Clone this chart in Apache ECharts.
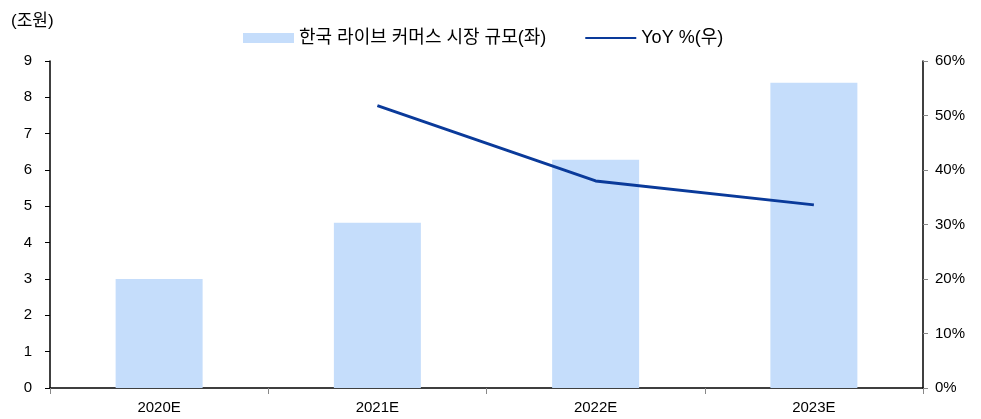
<!DOCTYPE html>
<html>
<head>
<meta charset="utf-8">
<script src="https://cdn.jsdelivr.net/npm/echarts@6/dist/echarts.min.js"></script>
<style>
  html, body { margin: 0; padding: 0; background: #fff; }
  #chart { width: 981px; height: 419px; }
</style>
</head>
<body>
<div id="chart"></div>
<script>
// 연도별 시장 규모(조원)와 성장률
var categories = ['2020E', '2021E', '2022E', '2023E'];
var marketSize = [3.0, 4.55, 6.28, 8.4];
var yoyPct = [null, 51.8, 38.0, 33.6];

var FONT = '"Liberation Sans", Arial, "Noto Sans CJK KR", sans-serif';

var myChart = echarts.init(document.getElementById('chart'));
var option = {
    animation: false,
    textStyle: { fontFamily: FONT },
    grid: { left: 50, right: 58, top: 61, bottom: 31, containLabel: false },
    graphic: [{
        type: 'text', left: 11, top: 13,
        style: { text: '(조원)', font: '17px ' + FONT, fill: '#000' }
    }],
    legend: {
        top: 24, left: 238, itemGap: 38, itemWidth: 51, itemHeight: 10,
        textStyle: { fontSize: 18, color: '#000', fontFamily: FONT },
        data: [
            { name: '한국 라이브 커머스 시장 규모(좌)', icon: 'rect' },
            { name: 'YoY %(우)', itemStyle: { opacity: 0 } }
        ]
    },
    xAxis: {
        type: 'category',
        data: categories,
        axisLine: { lineStyle: { color: '#000', width: 1.5 } },
        axisTick: { show: true, length: 6, lineStyle: { color: '#888' } },
        axisLabel: { fontSize: 15, color: '#000', margin: 12 }
    },
    yAxis: [{
        type: 'value', min: 0, max: 9, interval: 1,
        splitLine: { show: false },
        axisLine: { show: true, lineStyle: { color: '#000', width: 1.5 } },
        axisTick: { show: true, length: 5, lineStyle: { color: '#000' } },
        axisLabel: { fontSize: 15, color: '#000', margin: 18 }
    }, {
        type: 'value', min: 0, max: 60, interval: 10,
        splitLine: { show: false },
        axisLine: { show: true, lineStyle: { color: '#000', width: 1.5 } },
        axisTick: { show: true, length: 5, lineStyle: { color: '#888' } },
        axisLabel: { fontSize: 15, color: '#000', margin: 12, formatter: '{value}%' }
    }],
    series: [{
        name: '한국 라이브 커머스 시장 규모(좌)',
        type: 'bar',
        barWidth: 87,
        data: marketSize,
        itemStyle: { color: '#C5DDFB' }
    }, {
        name: 'YoY %(우)',
        type: 'line',
        yAxisIndex: 1,
        data: yoyPct,
        symbol: 'none',
        lineStyle: { color: '#0A3A9A', width: 3 },
        itemStyle: { color: '#0A3A9A' }
    }]
};
myChart.setOption(option);
</script>
</body>
</html>
